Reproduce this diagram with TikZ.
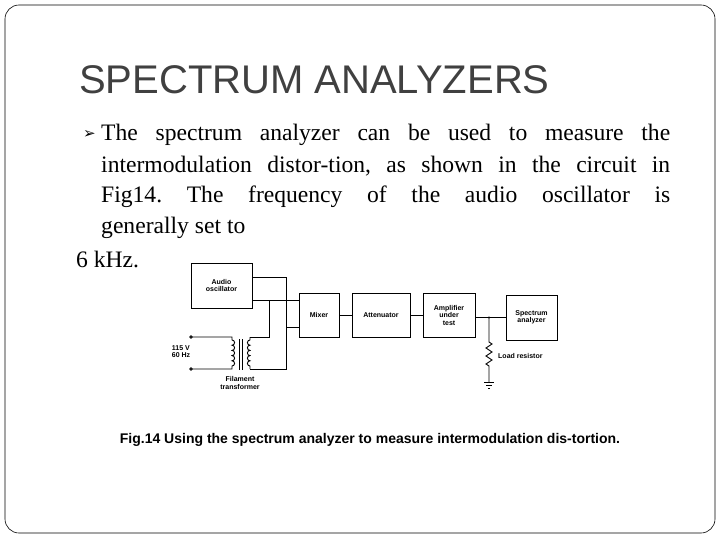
\documentclass[tikz,border=0pt]{standalone}
\usepackage{fontspec}
\setmainfont{Liberation Serif}
\setsansfont{Liberation Sans}
\newfontfamily\dv{DejaVu Sans}
\begin{document}
\begin{tikzpicture}[x=1pt,y=-1pt,
  blk/.style={draw,line width=0.9pt,inner sep=0pt,font=\sffamily\bfseries\fontsize{7}{7.5}\selectfont,align=center},
  wire/.style={line width=0.9pt},
  lbl/.style={font=\sffamily\bfseries\fontsize{7}{7.5}\selectfont,align=center,inner sep=0pt},
  body/.style={anchor=west,inner sep=0pt,font=\fontsize{23.6}{23.6}\selectfont}]
\useasboundingbox (0,0) rectangle (720,540);
\draw[rounded corners=14pt,line width=0.6pt] (5,5) rectangle (715,533);
\node[anchor=west,inner sep=0pt,text=black!75,font=\sffamily\fontsize{40}{40}\selectfont] (title) at (79,80) {SPECTRUM ANALYZERS};
\node[anchor=west,inner sep=0pt,font=\dv\fontsize{15}{15}\selectfont] (bul) at (83,135) {➢};
\node[body] (l1) at (101,135) {\hbox to 569pt{The\hfill spectrum\hfill analyzer\hfill can\hfill be\hfill used\hfill to\hfill measure\hfill the}};
\node[body] (l2) at (101,166) {\hbox to 569pt{intermodulation\hfill distor-tion,\hfill as\hfill shown\hfill in\hfill the\hfill circuit\hfill in}};
\node[body] (l3) at (101,197) {\hbox to 569pt{Fig14.\hfill The\hfill frequency\hfill of\hfill the\hfill audio\hfill oscillator\hfill is}};
\node[body] (l4) at (101,228) {generally set to};
\node[body] (l5) at (76,259) {6 kHz.};
% blocks
\node[blk,minimum width=61pt,minimum height=45pt] (osc) at (221.5,285.5) {Audio\\oscillator};
\node[blk,minimum width=40pt,minimum height=44pt] (mix) at (319,315) {Mixer};
\node[blk,minimum width=58pt,minimum height=44pt] (att) at (381,315) {Attenuator};
\node[blk,minimum width=52pt,minimum height=44pt] (amp) at (449,315) {Amplifier\\under\\test};
\node[blk,minimum width=51pt,minimum height=45pt] (spa) at (531.5,317.5) {Spectrum\\analyzer};
\coordinate (a1) at (286,277); \coordinate (a2) at (286,369); \coordinate (a3) at (286,327);
\coordinate (b1) at (269,300); \coordinate (b2) at (269,337);
\draw[wire] (osc.east|-a1) -- (a1) -- (a2) -- (250,369);
\draw[wire] (osc.east|-b1) -- (mix.west|-b1);
\draw[wire] (b1) -- (b2) -- (250,337);
\draw[wire] (a3) -- (mix.west|-a3);
\draw[wire] (mix) -- (att); \draw[wire] (att) -- (amp);
\draw[wire] (amp.east|-spa) -- (spa.west);
\coordinate (j) at (489,317.5);
\fill (j) circle (1.2pt);
\draw[wire] (j) -- (489,342) -- (492,344) -- (486,348) -- (492,352) -- (486,356) -- (492,360) -- (486,364) -- (489,366) -- (489,382);
\draw[wire] (484,382) -- (494,382) (486,385) -- (492,385) (488,388) -- (490,388);
% transformer
\coordinate (p1) at (191,337); \coordinate (p2) at (191,369);
\draw[wire] (p1) circle (1.2pt) (p2) circle (1.2pt);
\draw[wire] (192.2,337) -- (232,337) -- (232,340)
  \foreach \k in {0,1,2,3,4} {arc[start angle=90,end angle=-90,radius=2.6pt]} -- (232,369) -- (192.2,369);
\draw[wire] (250,337) -- (250,340)
  \foreach \k in {0,1,2,3,4} {arc[start angle=90,end angle=270,radius=2.6pt]} -- (250,369);
\draw[wire] (239,339) -- (239,370) (242,339) -- (242,370);
\node[lbl,align=left] (v) at (181,351.5) {115 V\\60 Hz};
\node[lbl] (ft) at (240,383) {Filament\\transformer};
\node[lbl,anchor=west] (lr) at (498,356) {Load resistor};
\node[inner sep=0pt,font=\sffamily\bfseries\fontsize{14}{14}\selectfont] (cap) at (370,440) {Fig.14 Using the spectrum analyzer to measure intermodulation dis-tortion.};
\end{tikzpicture}
\end{document}
